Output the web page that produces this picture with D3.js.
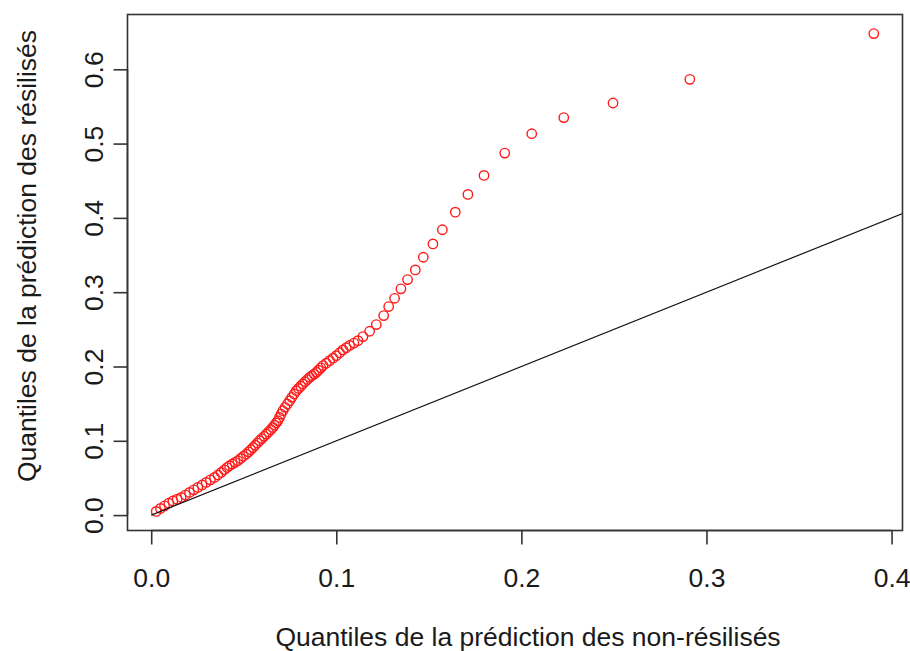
<!DOCTYPE html>
<html>
<head>
<meta charset="utf-8">
<script src="https://cdn.jsdelivr.net/npm/d3@7"></script>
<style>
  body { margin: 0; background: #fff; }
  svg text { font-family: "Liberation Sans", Arial, sans-serif; fill: #1a1a1a; }
</style>
</head>
<body>
<div id="chart"></div>
<script>
// quantiles of the prediction, non-résiliés (x) vs résiliés (y)
const qNonResil = [
  0.0027, 0.0050, 0.0072, 0.0095, 0.0117, 0.0140, 0.0162, 0.0185, 0.0207, 0.0230,
  0.0252, 0.0275, 0.0297, 0.0320, 0.0342, 0.0360, 0.0378, 0.0395, 0.0410, 0.0423,
  0.0438, 0.0453, 0.0468, 0.0483, 0.0498, 0.0514, 0.0526, 0.0538, 0.0550, 0.0562,
  0.0574, 0.0585, 0.0597, 0.0610, 0.0622, 0.0634, 0.0646, 0.0657, 0.0666, 0.0675,
  0.0684, 0.0693, 0.0702, 0.0711, 0.0723, 0.0736, 0.0748, 0.0760, 0.0772, 0.0784,
  0.0796, 0.0808, 0.0819, 0.0831, 0.0844, 0.0856, 0.0868, 0.0880, 0.0892, 0.0904,
  0.0916, 0.0928, 0.0946, 0.0964, 0.0982, 0.1000, 0.1018, 0.1036, 0.1054, 0.1072,
  0.1095, 0.1117, 0.1144, 0.1180, 0.1216, 0.1256, 0.1283, 0.1315, 0.1349, 0.1385,
  0.1427, 0.1470, 0.1522, 0.1573, 0.1643, 0.1711, 0.1798, 0.1910, 0.2056, 0.2229,
  0.2495, 0.2910, 0.3904
];
const qResil = [
  0.0050, 0.0090, 0.0125, 0.0160, 0.0190, 0.0215, 0.0237, 0.0270, 0.0305, 0.0340,
  0.0372, 0.0405, 0.0440, 0.0475, 0.0507, 0.0540, 0.0574, 0.0610, 0.0640, 0.0664,
  0.0688, 0.0710, 0.0732, 0.0762, 0.0792, 0.0822, 0.0851, 0.0880, 0.0910, 0.0940,
  0.0970, 0.1001, 0.1030, 0.1060, 0.1090, 0.1120, 0.1150, 0.1180, 0.1210, 0.1240,
  0.1270, 0.1315, 0.1360, 0.1405, 0.1450, 0.1495, 0.1540, 0.1585, 0.1630, 0.1675,
  0.1705, 0.1735, 0.1765, 0.1795, 0.1825, 0.1854, 0.1876, 0.1898, 0.1921, 0.1951,
  0.1982, 0.2012, 0.2045, 0.2079, 0.2112, 0.2146, 0.2185, 0.2223, 0.2253, 0.2283,
  0.2315, 0.2348, 0.2402, 0.2474, 0.2564, 0.2685, 0.2807, 0.2918, 0.3045, 0.3170,
  0.3300, 0.3470, 0.3650, 0.3840, 0.4077, 0.4316, 0.4572, 0.4872, 0.5133, 0.5350,
  0.5546, 0.5865, 0.6480
];
const refLine = [0, 1]; // y = x, drawn from the origin
const xTicks = [0, 0.1, 0.2, 0.3, 0.4];
const yTicks = [0, 0.1, 0.2, 0.3, 0.4, 0.5, 0.6];
const xTitle = "Quantiles de la prédiction des non-résilisés";
const yTitle = "Quantiles de la prédiction des résilisés";

const W = 910, H = 651;
const box = {left: 127.5, right: 902.5, top: 14.5, bottom: 530.5};
const fs = 26.5;

// R style: data range padded by 4% on each side
function padded(ext){
  const r = ext[1] - ext[0];
  return [ext[0] - 0.04 * r, ext[1] + 0.04 * r];
}

const x = d3.scaleLinear().domain(padded(d3.extent(qNonResil))).range([box.left, box.right]);
const y = d3.scaleLinear().domain(padded(d3.extent(qResil))).range([box.bottom, box.top]);

const svg = d3.select("#chart").append("svg")
  .attr("width", W).attr("height", H);

svg.append("clipPath").attr("id", "plotclip")
  .append("rect")
  .attr("x", box.left).attr("y", box.top)
  .attr("width", box.right - box.left).attr("height", box.bottom - box.top);

const pts = qNonResil.map((v, i) => [v, qResil[i]]);

// points
svg.append("g").attr("clip-path", "url(#plotclip)")
  .selectAll("circle").data(pts).join("circle")
  .attr("cx", d => x(d[0]))
  .attr("cy", d => y(d[1]))
  .attr("r", 4.7)
  .attr("fill", "none")
  .attr("stroke", "#ff1a1a")
  .attr("stroke-width", 1.4);

// y = x reference line
svg.append("line")
  .attr("clip-path", "url(#plotclip)")
  .attr("x1", x(refLine[0])).attr("y1", y(refLine[0]))
  .attr("x2", x(refLine[1])).attr("y2", y(refLine[1]))
  .attr("stroke", "#111").attr("stroke-width", 1.2);

// box
svg.append("rect")
  .attr("x", box.left).attr("y", box.top)
  .attr("width", box.right - box.left).attr("height", box.bottom - box.top)
  .attr("fill", "none").attr("stroke", "#333").attr("stroke-width", 1.6);

// x axis
const xAxis = d3.axisBottom(x).tickValues(xTicks).tickFormat(d3.format(".1f"))
  .tickSizeInner(14).tickSizeOuter(0);
const gx = svg.append("g").attr("transform", `translate(0,${box.bottom})`).call(xAxis);
gx.select(".domain")
  .attr("d", `M${x(xTicks[0])},0H${x(xTicks[xTicks.length - 1])}`)
  .attr("stroke", "#333").attr("stroke-width", 1.6);
gx.selectAll(".tick line").attr("stroke", "#333").attr("stroke-width", 1.6);
gx.selectAll(".tick text")
  .attr("y", 56).attr("dy", null)
  .attr("font-size", fs).attr("fill", "#1a1a1a")
  .style("font-family", "'Liberation Sans', Arial, sans-serif");

// y axis (labels rotated like R's las = 0)
const yAxis = d3.axisLeft(y).tickValues(yTicks).tickFormat(d3.format(".1f"))
  .tickSizeInner(14).tickSizeOuter(0);
const gy = svg.append("g").attr("transform", `translate(${box.left},0)`).call(yAxis);
gy.select(".domain")
  .attr("d", `M0,${y(yTicks[0])}V${y(yTicks[yTicks.length - 1])}`)
  .attr("stroke", "#333").attr("stroke-width", 1.6);
gy.selectAll(".tick line").attr("stroke", "#333").attr("stroke-width", 1.6);
gy.selectAll(".tick text")
  .attr("x", null).attr("dy", null)
  .attr("text-anchor", "middle")
  .attr("transform", "translate(-25,0) rotate(-90)")
  .attr("font-size", fs).attr("fill", "#1a1a1a")
  .style("font-family", "'Liberation Sans', Arial, sans-serif");

// titles
svg.append("text")
  .attr("x", 528).attr("y", 646)
  .attr("text-anchor", "middle").attr("font-size", fs)
  .text(xTitle);

svg.append("text")
  .attr("transform", "translate(36,256) rotate(-90)")
  .attr("text-anchor", "middle").attr("font-size", fs)
  .text(yTitle);
</script>
</body>
</html>
